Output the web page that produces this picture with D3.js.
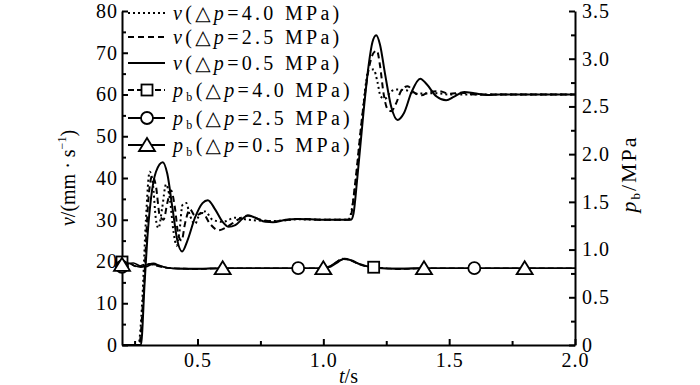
<!DOCTYPE html>
<html>
<head>
<meta charset="utf-8">
<script src="https://cdn.jsdelivr.net/npm/d3@7"></script>
<style>
  body { margin: 0; background: #fff; }
  svg text { font-family: "Liberation Serif", "Times New Roman", "DejaVu Serif", serif; fill: #000; }
  .axis text { font-size: 20px; letter-spacing: 1px; }
  .axis path, .axis line { stroke: #000; stroke-width: 2; }
  .legend text { font-size: 20px; letter-spacing: 3.3px; }
  .label { font-size: 20px; }
</style>
</head>
<body>
<svg id="chart" width="700" height="385"></svg>
<script>
// time axis (s)
const tTicks = [0.25, 0.5, 0.75, 1.0, 1.25, 1.5, 1.75, 2.0];
const tLabels = [0.5, 1.0, 1.5, 2.0];

// left axis v (mm/s), right axis pb (MPa)
const vTicks = d3.range(0, 81, 5);
const pTicks = d3.range(0, 3.51, 0.25);

// velocity curves [t, v]
const v40 = [[0.2,0],[0.265,0],[0.28,10],[0.295,30],[0.31,41.5],[0.322,39],[0.335,30],[0.345,28],[0.36,33],
  [0.375,38.5],[0.39,35],[0.405,27],[0.417,23.8],[0.428,27],[0.44,33.5],[0.455,34],[0.47,31],[0.49,29],
  [0.51,31.5],[0.53,32],[0.56,30],[0.6,29.5],[0.65,30.5],[0.7,30],[0.8,29.7],[0.9,30.1],[1.0,30],[1.1,30],
  [1.105,30.5],[1.12,35],[1.15,52],[1.17,63],[1.18,66],[1.2,66],[1.215,63],[1.228,59.5],[1.245,59],
  [1.27,60.8],[1.29,61.2],[1.33,61],[1.36,60.2],[1.45,60.3],[1.5,60],[2.0,60]];

const v25 = [[0.2,0],[0.268,0],[0.285,12],[0.305,35],[0.32,40.5],[0.335,38],[0.35,31],[0.365,30],[0.38,34],
  [0.395,37],[0.41,33],[0.425,26],[0.437,25],[0.45,29],[0.47,32.5],[0.49,31],[0.52,31.6],[0.55,29],
  [0.583,27.5],[0.62,28.4],[0.66,30],[0.7,31],[0.74,30.2],[0.8,29.6],[0.9,30.2],[1.0,30],[1.1,30],
  [1.108,30.5],[1.125,38],[1.155,55],[1.18,66],[1.2,70],[1.213,70.5],[1.225,67],[1.24,60],[1.255,56.5],
  [1.27,56],[1.29,58],[1.31,61],[1.335,62],[1.36,60.5],[1.39,59.8],[1.42,60.6],[1.46,60.8],[1.5,60.2],
  [1.55,60.4],[1.6,60],[2.0,60]];

const v05 = [[0.2,0],[0.275,0],[0.29,15],[0.30,25],[0.315,35],[0.335,41.5],[0.362,43.8],[0.38,41],[0.40,33],
  [0.42,25],[0.439,22.4],[0.46,25],[0.49,30.5],[0.52,34],[0.541,34.7],[0.57,32.5],[0.60,29.5],[0.624,28.3],
  [0.65,28.7],[0.68,30.3],[0.70,31],[0.73,30.5],[0.77,29.5],[0.80,29.4],[0.85,30],[0.9,30.2],[1.0,30],
  [1.11,30],[1.12,31.5],[1.135,40],[1.16,56],[1.18,67],[1.195,72.5],[1.21,74.2],[1.225,72],[1.245,65],
  [1.27,57],[1.295,53.9],[1.32,55.5],[1.35,60.5],[1.385,63.8],[1.41,62.5],[1.45,59.5],[1.488,58.6],
  [1.52,59.5],[1.56,60.6],[1.6,60.3],[1.65,59.9],[1.7,60],[2.0,60]];

// back pressure curves [t, pb]
const p40 = [[0.2,0.87],[0.215,0.875],[0.235,0.85],[0.26,0.82],[0.285,0.84],[0.31,0.85],[0.335,0.83],
  [0.36,0.815],[0.4,0.805],[0.45,0.8],[0.5,0.795],[0.55,0.8],[0.6,0.805],[1.0,0.805],[1.02,0.815],
  [1.05,0.865],[1.075,0.905],[1.1,0.895],[1.13,0.86],[1.16,0.83],[1.2,0.815],[1.25,0.805],[1.3,0.795],
  [1.35,0.8],[1.4,0.805],[2.0,0.805]];
const p25 = [[0.2,0.82],[0.22,0.845],[0.245,0.86],[0.27,0.83],[0.295,0.82],[0.32,0.845],[0.345,0.835],
  [0.37,0.815],[0.42,0.8],[0.5,0.8],[0.6,0.805],[1.0,0.805],[1.025,0.825],[1.055,0.875],[1.08,0.9],
  [1.105,0.89],[1.14,0.85],[1.18,0.82],[1.22,0.81],[1.3,0.8],[1.4,0.805],[2.0,0.805]];
const p05 = [[0.2,0.84],[0.225,0.86],[0.25,0.83],[0.275,0.815],[0.3,0.84],[0.325,0.855],[0.35,0.83],
  [0.38,0.81],[0.43,0.8],[0.5,0.798],[0.6,0.805],[1.0,0.805],[1.03,0.82],[1.06,0.87],[1.085,0.905],
  [1.11,0.89],[1.15,0.845],[1.19,0.815],[1.25,0.8],[1.32,0.8],[1.4,0.805],[2.0,0.805]];

// marker positions (t) on pb curves
const squareT = [0.2, 1.2];
const circleT = [0.2, 0.9, 1.6];
const triangleT = [0.2, 0.6, 1.0, 1.4, 1.8];

const legendLabels = ['4.0', '2.5', '0.5', '4.0', '2.5', '0.5'];

const margins = { left: 122, right: 125, top: 11, bottom: 40 };
const width = 700, height = 385;
const innerWidth = width - margins.left - margins.right;
const innerHeight = height - margins.top - margins.bottom;

const svg = d3.select('#chart');

const x = d3.scaleLinear().domain([0.2, 2.0]).range([0, innerWidth]);
const y = d3.scaleLinear().domain([0, 80]).range([innerHeight, 0]);
const y2 = d3.scaleLinear().domain([0, 3.5]).range([innerHeight, 0]);

const plot = svg.append('g')
  .attr('transform', `translate(${margins.left}, ${margins.top})`);

const isHalf = (d) => Math.abs(d * 2 - Math.round(d * 2)) < 1e-6;

// axes
const xAxis = d3.axisBottom(x)
  .tickValues(tTicks)
  .tickSizeInner(-6)
  .tickSizeOuter(0)
  .tickPadding(8)
  .tickFormat((d) => tLabels.includes(d) ? d3.format('.1f')(d) : '');

const yAxis = d3.axisLeft(y)
  .tickValues(vTicks)
  .tickSizeInner(-6)
  .tickSizeOuter(0)
  .tickPadding(4)
  .tickFormat((d) => d % 10 === 0 ? d : '');

const y2Axis = d3.axisRight(y2)
  .tickValues(pTicks)
  .tickSizeInner(-6)
  .tickSizeOuter(0)
  .tickPadding(7)
  .tickFormat((d) => isHalf(d) ? (d === 0 ? '0' : d3.format('.1f')(d)) : '');

const xg = plot.append('g').attr('class', 'axis')
  .attr('transform', `translate(0, ${innerHeight})`).call(xAxis);
const yg = plot.append('g').attr('class', 'axis').call(yAxis);
const y2g = plot.append('g').attr('class', 'axis')
  .attr('transform', `translate(${innerWidth}, 0)`).call(y2Axis);

// shorter minor ticks, no empty labels
const xMinor = xg.selectAll('.tick').filter((d) => !tLabels.includes(d));
xMinor.select('line').attr('y2', -4);
xMinor.select('text').remove();
const yMinor = yg.selectAll('.tick').filter((d) => d % 10 !== 0);
yMinor.select('line').attr('x2', 4);
yMinor.select('text').remove();
const y2Minor = y2g.selectAll('.tick').filter((d) => !isHalf(d));
y2Minor.select('line').attr('x2', -4);
y2Minor.select('text').remove();

// axis titles
svg.append('text').attr('class', 'label')
  .attr('transform', `translate(75, ${margins.top + innerHeight / 2}) rotate(-90)`)
  .attr('text-anchor', 'middle')
  .call((t) => {
    t.append('tspan').attr('font-style', 'italic').text('v');
    t.append('tspan').text('/(mm · s');
    t.append('tspan').attr('font-size', 12).attr('dy', -9).text('−1');
    t.append('tspan').attr('dy', 9).text(')');
  });

svg.append('text').attr('class', 'label')
  .attr('transform', `translate(636, ${margins.top + innerHeight / 2 - 4}) rotate(-90)`)
  .attr('text-anchor', 'middle')
  .style('font-size', '22px')
  .style('letter-spacing', '2px')
  .call((t) => {
    t.append('tspan').attr('font-style', 'italic').text('p');
    t.append('tspan').attr('font-size', 13).attr('dy', 4).text('b');
    t.append('tspan').attr('dy', -4).text('/MPa');
  });

svg.append('text').attr('class', 'label')
  .attr('x', margins.left + innerWidth / 2).attr('y', 383)
  .attr('text-anchor', 'middle')
  .call((t) => {
    t.append('tspan').attr('font-style', 'italic').text('t');
    t.append('tspan').text('/s');
  });

// lines
const vLine = d3.line().x((d) => x(d[0])).y((d) => y(d[1])).curve(d3.curveMonotoneX);
const pLine = d3.line().x((d) => x(d[0])).y((d) => y2(d[1])).curve(d3.curveMonotoneX);

const vSeries = [
  { data: v40, dash: '2,3' },
  { data: v25, dash: '6,4' },
  { data: v05, dash: null }
];
const pSeries = [
  { data: p40, dash: '6,3', marks: squareT, shape: 'square' },
  { data: p25, dash: null, marks: circleT, shape: 'circle' },
  { data: p05, dash: null, marks: triangleT, shape: 'triangle' }
];

plot.selectAll('path.v')
  .data(vSeries)
  .enter().append('path')
  .attr('class', 'v')
  .attr('d', (d) => vLine(d.data))
  .attr('fill', 'none')
  .attr('stroke', '#000')
  .attr('stroke-width', 2)
  .attr('stroke-dasharray', (d) => d.dash);

plot.selectAll('path.p')
  .data(pSeries)
  .enter().append('path')
  .attr('class', 'p')
  .attr('d', (d) => pLine(d.data))
  .attr('fill', 'none')
  .attr('stroke', '#000')
  .attr('stroke-width', 1.6)
  .attr('stroke-dasharray', (d) => d.dash);

// value on a pb curve at time t
function valueAt(data, t) {
  const i = d3.bisector((d) => d[0]).left(data, t);
  if (i <= 0) return data[0][1];
  const a = data[i - 1], b = data[i];
  return a[1] + (b[1] - a[1]) * (t - a[0]) / (b[0] - a[0]);
}

function drawMarker(g, shape) {
  if (shape === 'square') {
    g.append('rect').attr('x', -5.5).attr('y', -5.5).attr('width', 11).attr('height', 11);
  } else if (shape === 'circle') {
    g.append('circle').attr('r', 6);
  } else {
    g.append('path').attr('d', 'M0,-7L8,6L-8,6Z');
  }
  g.selectAll('*').attr('fill', '#fff').attr('stroke', '#000').attr('stroke-width', 1.8);
}

pSeries.forEach((s) => {
  s.marks.forEach((t) => {
    const g = plot.append('g')
      .attr('transform', `translate(${x(t)}, ${y2(valueAt(s.data, t))})`);
    drawMarker(g, s.shape);
  });
});

// legend
const legendY = [13, 37, 63, 90, 118, 145];
const legend = svg.append('g').attr('class', 'legend');

legendY.forEach((ly, i) => {
  const row = legend.append('g').attr('transform', `translate(128, ${ly})`);
  const s = i < 3 ? vSeries[i] : pSeries[i - 3];
  row.append('line')
    .attr('x1', 0).attr('x2', 37)
    .attr('stroke', '#000')
    .attr('stroke-width', 2)
    .attr('stroke-dasharray', i < 3 ? s.dash : (i === 3 ? '6,3' : null));
  if (i >= 3) {
    const m = row.append('g').attr('transform', 'translate(19, 0)');
    drawMarker(m, s.shape);
  }
  const txt = row.append('text').attr('x', 45).attr('dy', '0.35em');
  txt.append('tspan').attr('font-style', 'italic').text(i < 3 ? 'v' : 'p');
  if (i >= 3) {
    txt.append('tspan').attr('font-size', 12).attr('dy', 4).text('b');
    txt.append('tspan').attr('dy', -4).text('(△');
  } else {
    txt.append('tspan').text('(△');
  }
  txt.append('tspan').attr('font-style', 'italic').text('p');
  txt.append('tspan').text(`=${legendLabels[i]} MPa)`);
});
</script>
</body>
</html>
